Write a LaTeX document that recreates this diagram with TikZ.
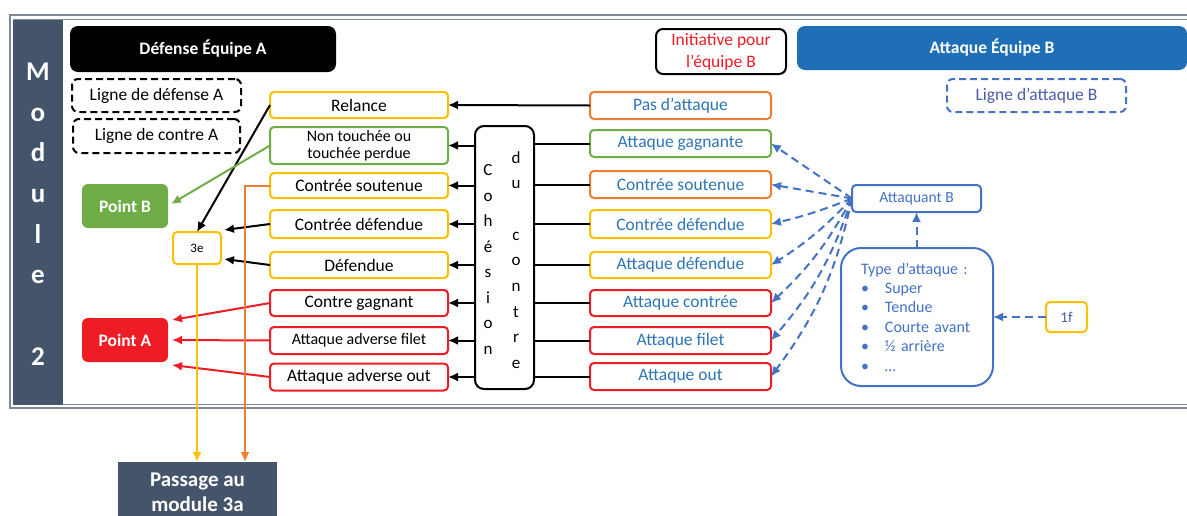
\documentclass[tikz,border=0pt]{standalone}
\usepackage{fontspec}
\setmainfont{Carlito}
\usetikzlibrary{arrows.meta,calc}
\definecolor{cyel}{HTML}{FFC000}
\definecolor{cora}{HTML}{ED7D31}
\definecolor{cgrn}{HTML}{70AD47}
\definecolor{cred}{HTML}{EE1C25}
\definecolor{cblu}{HTML}{2E75B6}
\definecolor{cbhd}{HTML}{1F6FB6}
\definecolor{clb}{HTML}{4472C4}
\definecolor{cslate}{HTML}{44546A}
\definecolor{cpur}{HTML}{4A5CA8}
\definecolor{cframe}{HTML}{7F8A99}
\begin{document}
\begin{tikzpicture}[x=1pt,y=-1pt,
  every node/.style={inner sep=0pt,outer sep=0pt},
  fs/.style={font=\fontsize{17.5}{20}\selectfont},
  outc/.style={draw,line width=2pt,rounded corners=4pt,fill=white,align=center,fs},
  lbox/.style={outc,minimum width=178pt},
  rbox/.style={outc,minimum width=181pt,text=cblu},
  dbox/.style={draw,line width=2pt,rounded corners=6pt,dash pattern=on 7pt off 4pt,align=center,fs},
  blk/.style={line width=2pt,-{Latex[length=10pt,width=9pt]}},
  pln/.style={line width=2pt},
  bdash/.style={clb,line width=2pt,dash pattern=on 8pt off 5pt,-{Latex[length=10pt,width=9pt]}},
]
\useasboundingbox (0,0) rectangle (1187,515);
% frame
\draw[cframe,line width=2pt] (10,15) rectangle (1200,408);
\draw[cframe,line width=1pt] (13.5,19) rectangle (1200,404.5);
\node[fill=cslate,minimum width=50pt,minimum height=385pt] (modcol) at (38,212.5) {};
\node[font=\fontsize{27}{40.7}\selectfont\bfseries,text=white,align=center] (modt) at (38,214) {M\\o\\d\\u\\l\\e\\\mbox{}\\2};

% headers
\node[fill=black,rounded corners=8pt,minimum width=266pt,minimum height=46pt,text=white,font=\fontsize{17.5}{20}\selectfont\bfseries] (defA) at (203,49) {Défense Équipe A};
\node[dbox,minimum width=169pt,minimum height=33pt] (ldA) at (156.5,95.5) {Ligne de défense A};
\node[dbox,minimum width=167pt,minimum height=34pt] (lcA) at (156.5,136) {Ligne de contre A};
\node[draw,line width=2pt,rounded corners=7pt,minimum width=130pt,minimum height=45pt,text=cred,align=center,font=\fontsize{17.5}{22}\selectfont] (initB) at (721,51.5) {Initiative pour\\l’équipe B};
\node[fill=cbhd,rounded corners=8pt,minimum width=390pt,minimum height=44pt,text=white,font=\fontsize{17.5}{20}\selectfont\bfseries] (attB) at (992,48) {Attaque Équipe B};
\node[dbox,draw=clb,text=cpur,minimum width=179pt,minimum height=33pt] (laB) at (1036.5,95.5) {Ligne d’attaque B};

% points
\node[fill=cgrn,rounded corners=6pt,minimum width=86pt,minimum height=44pt,text=white,font=\fontsize{17.5}{20}\selectfont\bfseries] (ptB) at (125,206) {Point B};
\node[fill=cred,rounded corners=6pt,minimum width=86pt,minimum height=44pt,text=white,font=\fontsize{17.5}{20}\selectfont\bfseries] (ptA) at (125,340) {Point A};
\node[draw=cyel,line width=2pt,rounded corners=4pt,fill=white,minimum width=48pt,minimum height=32pt,font=\fontsize{13}{15}\selectfont] (te) at (197,248) {3e};
\node[fill=cslate,minimum width=159pt,minimum height=60pt,text=white,align=center,font=\fontsize{21}{25}\selectfont\bfseries] (pas) at (197.5,492) {Passage au\\module 3a};

% left outcome boxes
\node[lbox,draw=cyel,minimum height=26pt] (rel) at (359,105) {Relance};
\node[lbox,draw=cgrn,minimum height=37pt,font=\fontsize{16}{17.5}\selectfont] (nt) at (359,145.5) {Non touchée ou\\touchée perdue};
\node[lbox,draw=cyel,minimum height=25pt] (cs) at (359,185.5) {Contrée soutenue};
\node[lbox,draw=cyel,minimum height=28pt] (cd) at (359,224) {Contrée défendue};
\node[lbox,draw=cyel,minimum height=26pt] (df) at (359,265) {Défendue};
\node[lbox,draw=cred,minimum height=26pt] (cg) at (359,303) {Contre gagnant};
\node[lbox,draw=cred,minimum height=27pt,font=\fontsize{16}{18}\selectfont] (af) at (359,340.5) {Attaque adverse filet};
\node[lbox,draw=cred,minimum height=27pt] (ao) at (359,377) {Attaque adverse out};

% cohesion
\node[draw,line width=2pt,rounded corners=9pt,fill=white,minimum width=59pt,minimum height=263pt] (coh) at (504.5,257.5) {};
\node[font=\fontsize{17}{25.5}\selectfont,align=center] (cohl) at (488,259.5) {C\\o\\h\\é\\s\\i\\o\\n};
\node[font=\fontsize{17}{25.7}\selectfont,align=center] (cohr) at (516,260) {d\\u\\\mbox{}\\c\\o\\n\\t\\r\\e};

% right attack boxes
\node[rbox,draw=cora,minimum height=27pt] (pa) at (680.5,105.5) {Pas d’attaque};
\node[rbox,draw=cgrn,minimum height=27pt] (ag) at (680.5,143.5) {Attaque gagnante};
\node[rbox,draw=cora,minimum height=27pt] (rcs) at (680.5,184.5) {Contrée soutenue};
\node[rbox,draw=cyel,minimum height=28pt] (rcd) at (680.5,224) {Contrée défendue};
\node[rbox,draw=cyel,minimum height=26pt] (ad) at (680.5,265) {Attaque défendue};
\node[rbox,draw=cred,minimum height=26pt] (ac) at (680.5,303) {Attaque contrée};
\node[rbox,draw=cred,minimum height=27pt] (afi) at (680.5,340.5) {Attaque filet};
\node[rbox,draw=cred,minimum height=27pt] (aout) at (680.5,376.5) {Attaque out};

% attacker
\node[draw=clb,line width=2pt,rounded corners=4pt,minimum width=129pt,minimum height=27pt,text=clb,font=\fontsize{15.5}{18}\selectfont] (ab) at (916.5,198.5) {Attaquant B};
\node[draw=clb,line width=2pt,rounded corners=20pt,minimum width=152pt,minimum height=138pt,text width=112pt,inner xsep=20pt,align=left,text=clb,font=\fontsize{16}{19.4}\selectfont] (typ) at (917,317) {Type d’attaque :\\\makebox[24pt][l]{\textbullet}Super\\\makebox[24pt][l]{\textbullet}Tendue\\\makebox[24pt][l]{\textbullet}Courte avant\\\makebox[24pt][l]{\textbullet}½ arrière\\\makebox[24pt][l]{\textbullet}…};
\node[draw=cyel,line width=2pt,rounded corners=4pt,minimum width=41pt,minimum height=30pt,text=cpur,font=\fontsize{15}{18}\selectfont] (one) at (1066.5,317) {1f};

% black connectors
\draw[blk] (pa.west) -- (rel.east);
\foreach \b in {nt,cs,cd,df,cg,af,ao} \draw[blk] (coh.west |- \b.east) -- (\b.east);
\foreach \b in {ag,rcs,rcd,ad,ac,afi,aout} \draw[pln] (\b.west) -- (coh.east |- \b.west);
\draw[blk] (rel.west) -- (te.north);
\draw[blk] (cd.west) -- ($(te.north east)+(3,-2)$);
\draw[blk] (df.west) -- ($(te.south east)+(3,-5)$);
\draw[blk,cgrn] (nt.west) -- ($(ptB.east)+(3,-2)$);
\draw[blk,cred] (cg.west) -- ($(ptA.north east)+(4,2)$);
\draw[blk,cred] (af.west) -- ($(ptA.east)+(4,0)$);
\draw[blk,cred] (ao.west) -- ($(ptA.south east)+(4,3)$);
\coordinate (oc) at (245,185.5);
\draw[blk,cyel] (te.south) -- (te.south |- pas.north);
\draw[blk,cora] (cs.west) -- (oc) -- (oc |- pas.north);

% blue dashed
\draw[bdash] (ab.west) -- (ag.east);
\draw[bdash] (ab.west) -- (rcs.east);
\draw[bdash] (ab.west) to[bend left=4] (rcd.east);
\draw[bdash] (ab.west) to[bend left=7] (ad.east);
\draw[bdash] (ab.west) to[bend left=9] (ac.east);
\draw[bdash] (ab.west) to[bend left=11] (afi.east);
\draw[bdash] (ab.west) to[bend left=12] (aout.east);
\draw[bdash] (typ.north -| ab.south) -- (ab.south);
\draw[bdash] (one.west) -- (typ.east |- one.west);
\end{tikzpicture}
\end{document}
